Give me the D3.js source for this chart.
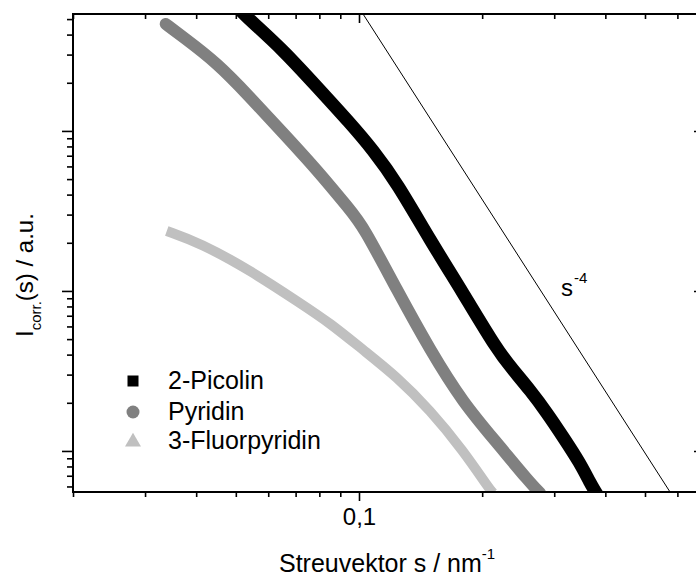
<!DOCTYPE html>
<html>
<head>
<meta charset="utf-8">
<script src="https://cdn.jsdelivr.net/npm/d3@7"></script>
<style>
  html, body { margin: 0; padding: 0; background: #fff; }
  svg { display: block; font-family: "Liberation Sans", Arial, sans-serif; }
</style>
</head>
<body>
<svg id="chart" width="696" height="578"></svg>
<script>
// ---- data ----
const picolinS = [0.0512, 0.0541, 0.0652, 0.0790, 0.0951, 0.1082, 0.1239, 0.1491, 0.1796, 0.2175, 0.2379, 0.2618, 0.2882, 0.3154, 0.347, 0.3672, 0.380];
const picolinI = [570, 494, 321, 188, 112, 76.0, 47.3, 20.8, 9.72, 4.28, 3.21, 2.40, 1.728, 1.223, 0.841, 0.631, 0.546];

const pyridinS = [0.0337, 0.0371, 0.0450, 0.0541, 0.0652, 0.0790, 0.0951, 0.1023, 0.1239, 0.1491, 0.1796, 0.2175, 0.2618, 0.277];
const pyridinI = [466, 387, 266, 163, 97.2, 57.0, 32.1, 25.5, 10.1, 4.28, 2.0, 1.122, 0.631, 0.546];

const fluorS = [0.0339, 0.0409, 0.0541, 0.0717, 0.0849, 0.1023, 0.1239, 0.1491, 0.1796, 0.209, 0.213];
const fluorI = [23.7, 19.95, 13.5, 8.41, 6.31, 4.28, 2.90, 1.80, 1.01, 0.571, 0.545];

const refS = [0.1, 0.6];      // s^-4 guide line end points
const refI = [589, 0.47];

const seriesNames = ["2-Picolin", "Pyridin", "3-Fluorpyridin"];

const xDomain = [0.02, 0.693];
const yDomain = [0.554, 538];
const xMajorTicks = [0.1];
const xTickLabels = ["0,1"];
const xMinorTicks = [0.02, 0.03, 0.04, 0.05, 0.06, 0.07, 0.08, 0.09, 0.2, 0.3, 0.4, 0.5, 0.6];
const yMajorTicks = [1, 10, 100];
const yMinorTicks = [0.6, 0.7, 0.8, 0.9, 2, 3, 4, 5, 6, 7, 8, 9, 20, 30, 40, 50, 60, 70, 80, 90, 200, 300, 400, 500];

// ---- layout ----
const svg = d3.select("#chart");
const L = 73, R = 703, T = 14, B = 492;

const x = d3.scaleLog().domain(xDomain).range([L, R]);
const y = d3.scaleLog().domain(yDomain).range([B, T]);

svg.append("defs").append("clipPath").attr("id", "plotclip")
  .append("rect").attr("x", L).attr("y", T).attr("width", R - L).attr("height", B - T);

const plot = svg.append("g").attr("clip-path", "url(#plotclip)");

const line = d3.line().x(d => x(d[0])).y(d => y(d[1])).curve(d3.curveBasis);
const zip = (a, b) => a.map((v, i) => [v, b[i]]);

const series = [
  { name: seriesNames[0], pts: zip(picolinS, picolinI), color: "#000000", width: 13, cap: "square" },
  { name: seriesNames[1], pts: zip(pyridinS, pyridinI), color: "#808080", width: 12, cap: "round" },
  { name: seriesNames[2], pts: zip(fluorS, fluorI), color: "#c0c0c0", width: 10, cap: "butt" }
];

[series[2], series[1], series[0]].forEach(s => {
  plot.append("path")
    .attr("d", line(s.pts))
    .attr("fill", "none")
    .attr("stroke", s.color)
    .attr("stroke-width", s.width)
    .attr("stroke-linecap", s.cap)
    .attr("stroke-linejoin", "round");
});

// s^-4 guide
plot.append("path")
  .attr("d", d3.line().x(d => x(d[0])).y(d => y(d[1]))(zip(refS, refI)))
  .attr("fill", "none").attr("stroke", "#000").attr("stroke-width", 1);

const guideLabel = svg.append("text").attr("x", 561).attr("y", 296)
  .attr("font-size", 24).attr("fill", "#000");
guideLabel.append("tspan").text("s");
guideLabel.append("tspan").attr("font-size", 15).attr("dy", -13).attr("dx", 1).text("-4");

// ---- axes ----
function styleAxis(g, majors, majorLen, minorLen, dir) {
  g.selectAll(".domain").remove();
  g.selectAll(".tick line")
    .attr("stroke", "#000").attr("stroke-width", 1.6)
    .each(function(d) {
      const isMajor = majors.some(m => Math.abs(m - d) / m < 1e-6);
      const len = (isMajor ? majorLen : minorLen) * dir.sign;
      d3.select(this).attr(dir.attr, len);
    });
}
const allX = xMinorTicks.concat(xMajorTicks);
const allY = yMinorTicks.concat(yMajorTicks);

const gB = svg.append("g").attr("transform", `translate(0,${B})`)
  .call(d3.axisBottom(x).tickValues(allX).tickFormat(d => {
    const i = xMajorTicks.indexOf(d); return i >= 0 ? xTickLabels[i] : "";
  }).tickPadding(8));
styleAxis(gB, xMajorTicks, 9, 5, { attr: "y2", sign: 1 });
gB.selectAll(".tick text").attr("font-size", 24).attr("fill", "#000")
  .attr("font-family", "Liberation Sans, Arial, sans-serif").attr("y", 16);

const gT = svg.append("g").attr("transform", `translate(0,${T})`)
  .call(d3.axisTop(x).tickValues(allX).tickFormat(""));
styleAxis(gT, xMajorTicks, 9, 5, { attr: "y2", sign: 1 });

const gL = svg.append("g").attr("transform", `translate(${L},0)`)
  .call(d3.axisLeft(y).tickValues(allY).tickFormat(""));
styleAxis(gL, yMajorTicks, 11, 6, { attr: "x2", sign: -1 });

const gR = svg.append("g").attr("transform", `translate(${R},0)`)
  .call(d3.axisRight(y).tickValues(allY).tickFormat(""));
styleAxis(gR, yMajorTicks, 9, 5, { attr: "x2", sign: -1 });

svg.append("rect").attr("x", L).attr("y", T).attr("width", R - L).attr("height", B - T)
  .attr("fill", "none").attr("stroke", "#000").attr("stroke-width", 2);

// ---- axis titles ----
const xt = svg.append("text").attr("x", 279).attr("y", 572).attr("font-size", 25).attr("fill", "#000");
xt.append("tspan").text("Streuvektor s / nm");
xt.append("tspan").attr("font-size", 15).attr("dy", -13).text("-1");

const yt = svg.append("text").attr("transform", "translate(33,337) rotate(-90)")
  .attr("font-size", 24).attr("fill", "#000");
yt.append("tspan").text("I");
yt.append("tspan").attr("font-size", 15).attr("dy", 8).text("corr.");
yt.append("tspan").attr("dy", -8).text("(s) / a.u.");

// ---- legend ----
const legY = [381, 412, 441];
const lg = svg.append("g");
lg.append("rect").attr("x", 133 - 5.5).attr("y", legY[0] - 5.5).attr("width", 11).attr("height", 11).attr("fill", series[0].color);
lg.append("circle").attr("cx", 133).attr("cy", legY[1]).attr("r", 6.5).attr("fill", series[1].color);
lg.append("path").attr("d", d3.symbol().type(d3.symbolTriangle).size(110)()).attr("transform", `translate(133,${legY[2] + 1})`).attr("fill", series[2].color);
seriesNames.forEach((n, i) => {
  lg.append("text").attr("x", 168).attr("y", legY[i] + 8).attr("font-size", 25).attr("fill", "#000").text(n);
});
</script>
</body>
</html>
